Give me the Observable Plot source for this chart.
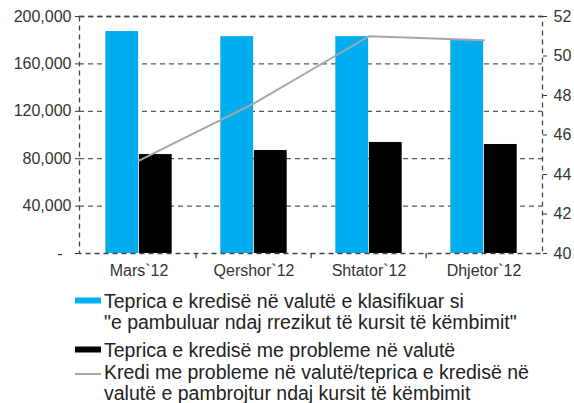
<!DOCTYPE html>
<html><head><meta charset="utf-8">
<script src="https://cdn.jsdelivr.net/npm/d3@7"></script>
<script src="https://cdn.jsdelivr.net/npm/@observablehq/plot@0.6"></script>
<style>
body{margin:0;background:#fff;font-family:"Liberation Sans",Arial,sans-serif;}
#wrap{position:relative;width:574px;height:403px;overflow:hidden;background:#fff}
#legend{position:absolute;left:0;top:0;width:574px;height:403px;pointer-events:none}
</style></head><body><div id="wrap"><div id="chart"></div><svg id="legend" width="574" height="403"></svg></div>
<script>
const categories = ["Mars`12", "Qershor`12", "Shtator`12", "Dhjetor`12"];
const unhedged = [187300, 183000, 183000, 179700];
const problem = [83500, 86900, 93700, 92000];
const ratio = [44.7, 47.6, 51.0, 50.8];
const leftTicks = [0, 40000, 80000, 120000, 160000, 200000];
const rightTicks = [40, 42, 44, 46, 48, 50, 52];
const legendLabels = [
  ["Teprica e kredisë në valutë e klasifikuar si", "\"e pambuluar ndaj rrezikut të kursit të këmbimit\""],
  ["Teprica e kredisë me probleme në valutë"],
  ["Kredi me probleme në valutë/teprica e kredisë në", "valutë e pambrojtur ndaj kursit të këmbimit"]
];
const colors = ["#00AEEF", "#000000", "#A6A6A6"];

const W = 574, H = 285, mL = 79, mR = 32, mT = 16, mB = 32;
const rMin = 40, rMax = 52, lMax = 200000;
const toLeft = v => (v - rMin) / (rMax - rMin) * lMax;
const fromLeft = v => Math.round(v / lMax * (rMax - rMin) + rMin);

const bw = (W - mL - mR) / categories.length;
const outer = bw * 0.21, half = bw / 2;

const barsA = categories.map((c, i) => ({c, v: unhedged[i]}));
const barsB = categories.map((c, i) => ({c, v: problem[i]}));
const lineD = categories.map((c, i) => ({c, v: toLeft(ratio[i])}));
const fmt = d3.format(",");

const plot = Plot.plot({
  width: W, height: H,
  marginLeft: mL, marginRight: mR, marginTop: mT, marginBottom: mB,
  style: {fontFamily: "Liberation Sans, Arial, sans-serif", fontSize: "16px", color: "#333", background: "#fff"},
  x: {type: "band", domain: categories, padding: 0},
  y: {domain: [0, lMax]},
  marks: [
    Plot.gridY(leftTicks.slice(1), {stroke: "#595959", strokeOpacity: 1, strokeDasharray: "5,4", strokeWidth: 1.3}),
    Plot.barY(barsA, {x: "c", y: "v", fill: colors[0], insetLeft: outer, insetRight: half}),
    Plot.barY(barsB, {x: "c", y: "v", fill: colors[1], insetLeft: half, insetRight: outer}),
    Plot.lineY(lineD, {x: "c", y: "v", stroke: colors[2], strokeWidth: 2}),
    Plot.frame({stroke: "#444", strokeDasharray: "5,4", strokeWidth: 1.3}),
    Plot.ruleX(categories.slice(1), {x: d => d, dx: -half, y1: 0, y2: -4500, stroke: "#333", strokeWidth: 1.2}),
    Plot.axisY(leftTicks, {anchor: "left", tickSize: 4, tickPadding: 4, label: null, stroke: "#333",
      tickFormat: d => d === 0 ? "-\u00a0\u00a0" : fmt(d), fill: "#333"}),
    Plot.axisY(rightTicks.map(toLeft), {anchor: "right", tickSize: 4, tickPadding: 7, label: null, stroke: "#333",
      tickFormat: d => String(fromLeft(d)), fill: "#333"}),
    Plot.axisX({tickSize: 0, tickPadding: 11, label: null, fill: "#333"})
  ]
});
document.getElementById("chart").appendChild(plot);

// legend below the chart
const lg = d3.select("#legend");
const baselines = [[307.5, 329], [356.5], [379, 400]];
const swatchX = 75, swatchW = 26, textX = 104;
legendLabels.forEach((lines, k) => {
  const b0 = baselines[k][0];
  if (k < 2) {
    lg.append("rect").attr("x", swatchX).attr("y", b0 - 10).attr("width", swatchW).attr("height", 6).attr("fill", colors[k]);
  } else {
    lg.append("line").attr("x1", swatchX).attr("x2", swatchX + swatchW).attr("y1", b0 - 5).attr("y2", b0 - 5)
      .attr("stroke", colors[k]).attr("stroke-width", 2);
  }
  lines.forEach((t, j) => {
    lg.append("text").attr("x", textX).attr("y", baselines[k][j]).text(t)
      .attr("font-family", "Liberation Sans, Arial, sans-serif").attr("font-size", 19.5).attr("fill", "#222");
  });
});
</script></body></html>
